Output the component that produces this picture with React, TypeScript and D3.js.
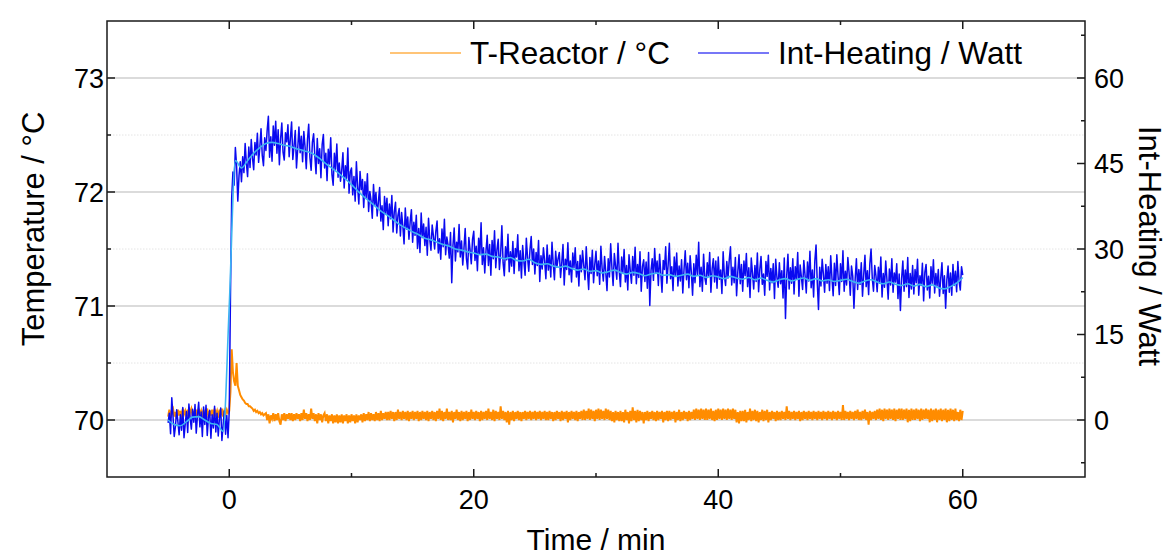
import React, { useEffect, useRef } from "react";
import * as d3 from "d3";

// sampling of the logged data (minutes)
const timeStart = -5;
const timeStep = 0.1;
const smoothStep = 0.5;

// T-Reactor / °C, one value every 0.1 min from -5 to 60 (one row = 1 min)
const reactorTemp = [
  70.03, 70.09, 70.02, 70.08, 70.1, 70.03, 70.07, 70.01, 70.09, 70.04,
  70.08, 70.02, 70.1, 70.05, 70.08, 70.03, 70.09, 70.02, 70.07, 70.1,
  70.04, 70.08, 70.02, 70.09, 70.03, 70.1, 70.05, 70.08, 70.02, 70.09,
  70.03, 70.07, 70.1, 70.02, 70.08, 70.04, 70.09, 70.03, 70.1, 70.05,
  70.08, 70.02, 70.09, 70.04, 70.1, 70.03, 70.08, 70.05, 70.09, 70.06,
  70.08, 70.25, 70.62, 70.42, 70.34, 70.3, 70.5, 70.3, 70.26, 70.22,
  70.2, 70.18, 70.17, 70.15, 70.14, 70.14, 70.12, 70.12, 70.11, 70.1,
  70.08, 70.09, 70.07, 70.08, 70.06, 70.07, 70.05, 70.06, 70.04, 70.05,
  70.06, 70.0, 70.05, 69.97, 70.04, 70.01, 70.06, 69.99, 70.05, 70.0,
  70.06, 69.99, 69.96, 70.05, 70.0, 70.06, 69.99, 70.05, 70.01, 70.06,
  70.0, 70.06, 69.99, 70.05, 70.0, 70.06, 70.01, 70.05, 69.99, 70.06,
  70.0, 70.09, 70.01, 70.06, 69.99, 70.05, 70.0, 70.1, 70.01, 70.06,
  69.99, 70.05, 69.97, 70.06, 70.0, 70.05, 69.98, 70.04, 70.06, 69.99,
  70.05, 69.97, 70.04, 69.99, 70.05, 69.97, 70.04, 69.98, 70.05, 69.97,
  70.04, 69.98, 70.05, 69.97, 70.04, 69.99, 70.05, 69.97, 70.04, 69.98,
  70.05, 69.99, 70.04, 69.97, 70.05, 69.98, 70.04, 70.0, 70.05, 69.98,
  70.06, 69.99, 70.05, 70.0, 70.07, 69.99, 70.06, 70.0, 70.05, 69.99,
  70.07, 70.0, 70.06, 69.99, 70.08, 70.0, 70.06, 70.01, 70.07, 70.0,
  70.07, 70.0, 70.08, 70.01, 70.07, 69.99, 70.07, 70.0, 70.09, 70.01,
  70.07, 70.0, 70.08, 70.01, 70.07, 70.0, 70.08, 69.99, 70.07, 70.01,
  70.08, 70.0, 70.07, 70.01, 70.08, 69.99, 70.07, 70.0, 70.08, 70.01,
  70.07, 70.0, 70.08, 69.99, 70.07, 70.01, 70.08, 70.0, 70.07, 69.99,
  70.08, 70.01, 70.1, 70.0, 70.08, 69.99, 70.07, 70.01, 70.1, 70.0,
  70.07, 70.0, 70.08, 69.98, 70.07, 70.01, 70.09, 70.0, 70.07, 69.99,
  70.08, 70.0, 70.07, 70.01, 70.08, 69.99, 70.07, 70.0, 70.09, 70.01,
  70.07, 70.0, 70.08, 70.01, 70.07, 69.99, 70.08, 70.0, 70.07, 70.01,
  70.08, 70.0, 70.1, 70.01, 70.07, 70.0, 70.09, 69.99, 70.08, 70.01,
  70.07, 70.0, 70.12, 70.01, 70.08, 70.0, 70.07, 69.98, 70.08, 69.96,
  70.07, 70.0, 70.08, 69.99, 70.07, 70.01, 70.08, 70.0, 70.07, 69.99,
  70.07, 70.01, 70.08, 70.0, 70.07, 70.01, 70.08, 70.0, 70.07, 70.01,
  70.08, 70.0, 70.07, 70.01, 70.08, 70.0, 70.07, 70.01, 70.08, 70.0,
  70.07, 70.0, 70.08, 70.01, 70.07, 69.99, 70.07, 70.0, 70.08, 70.01,
  70.07, 69.99, 70.08, 70.0, 70.07, 70.01, 70.08, 69.98, 70.07, 70.0,
  70.08, 70.01, 70.07, 70.0, 70.08, 69.99, 70.07, 70.01, 70.08, 70.0,
  70.09, 70.0, 70.08, 70.01, 70.1, 70.0, 70.09, 70.01, 70.08, 69.99,
  70.09, 70.01, 70.1, 70.0, 70.09, 70.01, 70.08, 70.0, 70.1, 70.01,
  70.09, 70.0, 70.08, 69.99, 70.07, 69.98, 70.08, 70.0, 70.07, 69.99,
  70.08, 69.99, 70.07, 69.98, 70.09, 70.0, 70.07, 69.97, 70.08, 69.99,
  70.11, 70.0, 70.08, 69.98, 70.09, 69.99, 70.08, 70.0, 70.07, 69.97,
  70.07, 70.0, 70.08, 69.99, 70.07, 70.01, 70.08, 70.0, 70.07, 69.99,
  70.08, 70.0, 70.07, 70.01, 70.08, 69.98, 70.07, 70.0, 70.08, 69.99,
  70.08, 70.0, 70.07, 70.01, 70.08, 69.98, 70.07, 70.0, 70.09, 69.99,
  70.07, 70.0, 70.08, 70.01, 70.07, 69.99, 70.08, 70.0, 70.07, 70.01,
  70.09, 70.0, 70.1, 70.01, 70.09, 70.0, 70.1, 70.01, 70.09, 70.0,
  70.1, 70.0, 70.09, 70.01, 70.1, 70.0, 70.08, 69.99, 70.09, 70.0,
  70.1, 70.01, 70.09, 70.0, 70.1, 70.01, 70.09, 70.0, 70.1, 70.01,
  70.09, 70.0, 70.1, 70.01, 70.09, 69.98, 70.07, 69.97, 70.08, 69.99,
  70.08, 69.99, 70.09, 69.98, 70.07, 70.0, 70.1, 69.99, 70.08, 70.0,
  70.09, 69.99, 70.08, 69.98, 70.07, 70.0, 70.09, 69.99, 70.08, 70.0,
  70.09, 69.98, 70.07, 70.0, 70.08, 70.01, 70.07, 69.99, 70.08, 70.0,
  70.07, 70.0, 70.08, 70.01, 70.07, 70.0, 70.12, 70.01, 70.08, 70.0,
  70.07, 70.01, 70.08, 70.0, 70.07, 70.01, 70.08, 69.99, 70.07, 70.0,
  70.08, 70.01, 70.07, 70.0, 70.08, 70.01, 70.07, 70.0, 70.08, 70.01,
  70.07, 70.0, 70.08, 70.01, 70.07, 70.0, 70.08, 70.01, 70.07, 70.0,
  70.08, 70.01, 70.07, 70.0, 70.08, 70.01, 70.07, 70.0, 70.08, 70.01,
  70.07, 70.0, 70.13, 70.0, 70.08, 70.01, 70.07, 70.0, 70.08, 70.01,
  70.07, 70.0, 70.08, 70.01, 70.09, 70.0, 70.07, 70.0, 70.08, 70.01,
  70.09, 70.0, 70.07, 69.96, 70.08, 70.0, 70.07, 70.01, 70.08, 70.0,
  70.09, 70.01, 70.1, 70.0, 70.09, 69.99, 70.1, 70.01, 70.09, 70.0,
  70.1, 70.01, 70.09, 70.0, 70.1, 69.99, 70.09, 70.01, 70.1, 70.0,
  70.1, 70.0, 70.09, 70.01, 70.1, 69.98, 70.09, 69.99, 70.1, 70.0,
  70.09, 70.0, 70.1, 70.01, 70.09, 69.99, 70.1, 70.0, 70.09, 70.01,
  70.1, 70.01, 70.09, 69.98, 70.1, 69.99, 70.09, 70.0, 70.1, 69.98,
  70.09, 70.0, 70.1, 69.99, 70.09, 70.0, 70.1, 69.98, 70.09, 69.99,
  70.1, 70.0, 70.09, 69.99, 70.1, 70.0, 70.07, 69.99, 70.09, 70.0,
  70.08,
];

// Int-Heating / Watt, same sampling
const heatingPower = [
  -0.5, 1.2, -2.4, 3.9, 0.6, -2.9, -1.1, 1.8, -0.3, -2.6,
  0.9, -1.8, 2.2, -3.1, -0.7, 1.5, -2.2, 2.8, 0.3, -1.6,
  1.9, -0.4, 2.7, -2.3, 0.8, 3.1, -1.2, 1.4, -2.9, 2.3,
  -0.8, 2.6, -2.7, 0.5, 1.7, -3.2, 0.9, -1.4, 2.4, -2.1,
  1.2, -2.8, 0.4, 2.1, -3.6, -0.9, 1.6, -2.5, 0.8, -3.1,
  1.5, 22.0, 39.0, 43.5, 41.2, 47.8, 44.6, 38.4, 42.9, 45.3,
  41.8, 46.2, 43.4, 48.5, 45.1, 42.7, 47.9, 44.3, 49.2, 46.0,
  43.9, 48.7, 46.5, 50.3, 45.2, 47.8, 51.1, 46.4, 44.6, 49.5,
  47.3, 50.8, 53.3, 46.1, 49.7, 45.4, 51.6, 48.2, 52.4, 46.8,
  50.9, 44.8, 49.3, 52.1, 47.0, 45.6, 50.4, 48.8, 51.8, 46.2,
  49.4, 52.3, 45.7, 48.1, 50.8, 44.2, 47.6, 51.4, 46.9, 49.8,
  45.3, 50.6, 47.9, 44.1, 49.2, 51.9, 46.0, 43.8, 48.7, 50.2,
  46.4, 43.2, 49.4, 45.0, 47.6, 42.5, 48.3, 50.1, 44.2, 46.8,
  42.0, 47.5, 44.9, 49.5, 43.1, 41.2, 46.8, 44.0, 48.4, 42.6,
  45.1, 41.9, 43.8, 46.9, 40.7, 44.6, 42.4, 47.7, 39.8, 43.5,
  44.2, 39.5, 42.7, 38.4, 45.3, 41.0, 37.9, 43.6, 40.4, 42.2,
  37.3, 41.8, 39.0, 43.2, 36.6, 40.1, 38.5, 35.4, 41.3, 37.7,
  39.9, 35.8, 38.3, 40.8, 34.9, 37.6, 33.4, 39.2, 36.2, 38.9,
  34.1, 37.9, 35.3, 39.4, 33.0, 36.5, 38.2, 32.8, 35.9, 37.1,
  32.3, 36.4, 34.0, 30.9, 37.2, 33.5, 35.6, 31.7, 34.8, 36.9,
  31.2, 34.7, 32.4, 35.9, 30.1, 33.6, 29.4, 36.3, 32.0, 34.4,
  30.6, 33.8, 28.9, 35.4, 31.7, 29.8, 34.2, 32.3, 30.0, 33.1,
  34.9, 29.3, 31.8, 28.2, 33.5, 30.4, 35.2, 29.0, 32.1, 30.7,
  28.4, 32.9, 24.1, 30.6, 33.7, 27.9, 31.2, 29.5, 34.3, 28.6,
  31.4, 27.2, 30.1, 33.6, 28.3, 26.5, 32.0, 29.8, 27.4, 31.7,
  33.1, 28.0, 30.5, 26.2, 31.9, 29.1, 34.6, 27.3, 30.2, 25.8,
  29.6, 32.4, 27.1, 30.8, 25.4, 31.5, 28.3, 33.2, 26.7, 29.9,
  31.7, 26.4, 29.2, 34.1, 27.6, 25.3, 30.4, 28.1, 32.6, 26.0,
  29.5, 27.0, 31.3, 25.7, 30.1, 28.6, 32.5, 26.2, 29.7, 24.9,
  30.6, 27.8, 25.4, 31.9, 28.5, 26.1, 29.9, 32.2, 27.3, 30.0,
  25.6, 29.4, 27.1, 31.5, 24.3, 28.8, 26.5, 30.2, 27.9, 24.8,
  30.7, 26.3, 28.9, 25.1, 31.2, 27.4, 24.6, 29.6, 26.8, 28.3,
  29.4, 25.0, 27.6, 30.8, 23.7, 28.2, 26.4, 31.1, 25.5, 27.9,
  24.2, 29.3, 26.7, 30.2, 25.1, 27.8, 23.5, 28.9, 26.0, 29.7,
  27.1, 24.6, 30.4, 26.2, 22.9, 28.5, 25.7, 29.8, 24.1, 27.3,
  29.6, 25.3, 27.9, 23.8, 30.5, 26.6, 24.4, 28.7, 25.9, 22.7,
  28.3, 25.1, 30.9, 26.8, 23.6, 29.2, 27.0, 24.7, 31.0, 26.1,
  23.4, 28.6, 25.9, 29.9, 24.2, 27.1, 22.8, 29.0, 26.3, 24.0,
  28.7, 25.4, 30.3, 23.9, 27.3, 25.0, 29.5, 22.6, 26.9, 28.1,
  24.3, 27.7, 23.1, 29.4, 20.1, 26.2, 28.3, 24.5, 30.1, 25.7,
  27.9, 23.6, 29.1, 25.8, 22.4, 28.0, 26.4, 30.4, 24.0, 27.2,
  31.0, 24.8, 26.9, 22.7, 28.6, 25.2, 29.3, 23.5, 27.0, 24.4,
  28.1, 22.3, 26.4, 29.7, 24.6, 27.5, 23.2, 28.8, 25.9, 21.9,
  27.4, 24.1, 28.9, 25.5, 31.2, 23.4, 26.8, 22.6, 29.1, 25.0,
  23.8, 27.6, 25.2, 29.4, 22.4, 26.5, 28.3, 24.2, 27.9, 23.1,
  28.6, 24.7, 26.3, 22.2, 29.5, 25.4, 23.6, 27.8, 24.9, 28.1,
  30.4, 23.7, 26.8, 24.1, 28.5, 21.8, 26.0, 29.0, 23.9, 27.3,
  22.6, 27.9, 25.3, 29.2, 23.4, 26.7, 21.5, 28.4, 25.8, 23.0,
  27.1, 24.3, 29.3, 22.5, 26.4, 28.7, 23.8, 25.6, 21.9, 27.8,
  25.2, 28.9, 22.8, 26.6, 24.1, 27.4, 21.3, 28.2, 25.0, 23.3,
  27.6, 23.9, 26.2, 21.4, 28.4, 17.8, 25.3, 29.1, 23.0, 26.7,
  24.0, 28.3, 22.1, 26.9, 24.8, 29.4, 21.7, 27.2, 25.1, 22.9,
  28.0, 25.4, 22.3, 27.7, 24.4, 29.6, 23.2, 26.3, 21.6, 27.9,
  30.7, 24.1, 19.4, 26.8, 23.5, 28.2, 25.6, 22.4, 27.3, 24.0,
  26.9, 22.7, 28.8, 24.9, 21.8, 27.5, 23.6, 29.0, 25.2, 22.0,
  27.4, 24.3, 29.7, 22.6, 26.1, 23.7, 28.5, 25.9, 21.9, 27.0,
  25.3, 19.6, 24.7, 28.3, 22.9, 26.4, 23.8, 27.6, 21.7, 25.5,
  28.9, 23.4, 26.2, 22.0, 27.4, 30.0, 24.8, 22.6, 27.1, 25.3,
  22.5, 26.8, 24.0, 28.6, 21.6, 25.7, 23.3, 27.9, 24.6, 21.2,
  26.5, 23.7, 28.3, 22.4, 25.8, 24.2, 27.4, 21.3, 25.6, 19.2,
  24.8, 27.9, 22.6, 26.3, 23.4, 28.5, 21.5, 25.7, 23.0, 27.1,
  22.1, 26.4, 24.1, 28.2, 21.9, 25.3, 23.6, 27.5, 20.9, 25.9,
  27.3, 22.8, 25.2, 21.4, 26.9, 24.0, 28.1, 22.3, 25.7, 23.5,
  26.4, 21.7, 24.9, 27.6, 22.2, 25.3, 19.6, 24.6, 27.0, 22.4,
  25.8, 21.9, 27.3, 23.6, 26.1, 22.5, 27.8, 24.3, 22.8, 26.9,
  25.4,
];

// smoothed Int-Heating (light blue), one value every 0.5 min from -5 to 60
const heatingSmooth = [
  0.0, -0.8, -1.0, -0.3, 0.5, 0.6, 0.0, -0.6, -0.8, -2.0,
  20.0, 45.5, 44.2, 45.5, 46.8, 47.8, 48.5, 48.7, 48.5, 48.2,
  48.0, 47.6, 47.3, 47.0, 46.5, 45.7, 44.8, 44.0, 43.2, 42.3,
  41.3, 40.2, 39.2, 38.3, 37.4, 36.5, 35.8, 35.0, 34.2, 33.6,
  33.0, 32.5, 31.9, 31.6, 31.2, 30.8, 30.5, 30.0, 29.8, 29.5,
  29.3, 29.0, 29.1, 28.7, 28.6, 28.3, 28.5, 28.0, 27.9, 28.2,
  27.6, 27.3, 27.4, 27.0, 26.8, 27.0, 26.6, 26.3, 26.5, 26.1,
  26.2, 25.8, 26.0, 26.3, 25.9, 25.6, 25.9, 25.7, 25.3, 25.6,
  25.8, 25.4, 25.5, 25.2, 25.4, 25.6, 25.2, 25.4, 25.0, 25.3,
  25.1, 24.8, 25.2, 24.9, 24.7, 25.0, 24.6, 24.9, 24.5, 24.2,
  24.6, 24.8, 24.4, 24.7, 24.9, 24.5, 24.8, 24.4, 24.6, 24.3,
  24.5, 24.7, 24.3, 24.0, 24.4, 24.6, 24.2, 23.9, 24.2, 23.8,
  23.6, 23.9, 23.5, 23.8, 23.4, 23.7, 23.2, 23.0, 23.4, 24.0,
  25.0,
];

const xTicks = [0, 20, 40, 60];
const xMinorTicks = [10, 30, 50];
const tempTicks = [70, 71, 72, 73];
const tempMinorTicks = [70.5, 71.5, 72.5];
const wattTicks = [0, 15, 30, 45, 60];
const wattMinorTicks = [-7.5, 7.5, 22.5, 37.5, 52.5, 67.5];
const legendItems = [
  { label: "T-Reactor / °C", color: "#ff8c00", legendColor: "#ffb04a" },
  { label: "Int-Heating / Watt", color: "#0a0af0", legendColor: "#4a4af5" },
];

const FONT = "'Liberation Sans', Arial, sans-serif";

export default function App() {
  const svgRef = useRef<SVGSVGElement>(null);

  useEffect(() => {
    const width = 1169;
    const height = 558;
    const left = 107;
    const right = 1085;
    const top = 21;
    const bottom = 477;

    const svg = d3
      .select(svgRef.current)
      .attr("width", width)
      .attr("height", height)
      .style("background-color", "white");
    svg.selectAll("*").remove();

    const x = d3.scaleLinear().domain([-10, 70]).range([left, right]);
    const yT = d3.scaleLinear().domain([69.5, 73.5]).range([bottom, top]);
    const yW = d3.scaleLinear().domain([-10, 70]).range([bottom, top]);

    // grid
    svg
      .append("g")
      .selectAll("line")
      .data(tempMinorTicks)
      .join("line")
      .attr("x1", left)
      .attr("x2", right)
      .attr("y1", (d) => yT(d))
      .attr("y2", (d) => yT(d))
      .attr("stroke", "#e4e4e4")
      .attr("stroke-dasharray", "1.5,1.5");
    svg
      .append("g")
      .selectAll("line")
      .data(tempTicks)
      .join("line")
      .attr("x1", left)
      .attr("x2", right)
      .attr("y1", (d) => yT(d))
      .attr("y2", (d) => yT(d))
      .attr("stroke", "#cfcfcf")
      .attr("stroke-width", 1.5);

    // data
    const tempLine = d3
      .line<number>()
      .x((d, i) => x(timeStart + i * timeStep))
      .y((d) => yT(d));
    const wattLine = d3
      .line<number>()
      .x((d, i) => x(timeStart + i * timeStep))
      .y((d) => yW(d));
    const smoothLine = d3
      .line<number>()
      .x((d, i) => x(timeStart + i * smoothStep))
      .y((d) => yW(d))
      .curve(d3.curveMonotoneX);

    svg
      .append("path")
      .attr("d", tempLine(reactorTemp))
      .attr("fill", "none")
      .attr("stroke", legendItems[0].color)
      .attr("stroke-width", 2);
    svg
      .append("path")
      .attr("d", wattLine(heatingPower))
      .attr("fill", "none")
      .attr("stroke", legendItems[1].color)
      .attr("stroke-width", 1.5)
      .attr("stroke-linejoin", "round");
    svg
      .append("path")
      .attr("d", smoothLine(heatingSmooth))
      .attr("fill", "none")
      .attr("stroke", "#3cb4f2")
      .attr("stroke-width", 1.6);

    // frame
    svg
      .append("rect")
      .attr("x", left)
      .attr("y", top)
      .attr("width", right - left)
      .attr("height", bottom - top)
      .attr("fill", "none")
      .attr("stroke", "#1a1a1a")
      .attr("stroke-width", 1.5);

    const ticks = svg.append("g").attr("stroke", "#1a1a1a").attr("stroke-width", 1.5);
    const xAll = [...xTicks.map((d) => [d, 8]), ...xMinorTicks.map((d) => [d, 4])];
    xAll.forEach(([d, len]) => {
      ticks.append("line").attr("x1", x(d)).attr("x2", x(d)).attr("y1", bottom).attr("y2", bottom - len);
      ticks.append("line").attr("x1", x(d)).attr("x2", x(d)).attr("y1", top).attr("y2", top + len);
    });
    const tAll = [...tempTicks.map((d) => [d, 8]), ...tempMinorTicks.map((d) => [d, 4])];
    tAll.forEach(([d, len]) => {
      ticks.append("line").attr("x1", left).attr("x2", left + len).attr("y1", yT(d)).attr("y2", yT(d));
    });
    const wAll = [...wattTicks.map((d) => [d, 8]), ...wattMinorTicks.map((d) => [d, 4])];
    wAll.forEach(([d, len]) => {
      ticks.append("line").attr("x1", right).attr("x2", right - len).attr("y1", yW(d)).attr("y2", yW(d));
    });

    // tick labels
    const tickFont = 27;
    svg
      .append("g")
      .selectAll("text")
      .data(xTicks)
      .join("text")
      .text((d) => `${d}`)
      .attr("x", (d) => x(d))
      .attr("y", bottom + 32)
      .attr("text-anchor", "middle")
      .style("font-family", FONT)
      .style("font-size", `${tickFont}px`);
    svg
      .append("g")
      .selectAll("text")
      .data(tempTicks)
      .join("text")
      .text((d) => `${d}`)
      .attr("x", left - 3)
      .attr("y", (d) => yT(d))
      .attr("dy", "0.36em")
      .attr("text-anchor", "end")
      .style("font-family", FONT)
      .style("font-size", `${tickFont}px`);
    svg
      .append("g")
      .selectAll("text")
      .data(wattTicks)
      .join("text")
      .text((d) => `${d}`)
      .attr("x", right + 9)
      .attr("y", (d) => yW(d))
      .attr("dy", "0.36em")
      .attr("text-anchor", "start")
      .style("font-family", FONT)
      .style("font-size", `${tickFont}px`);

    // axis titles
    const titleFont = 31;
    svg
      .append("text")
      .text("Time / min")
      .attr("x", (left + right) / 2)
      .attr("y", 550)
      .attr("text-anchor", "middle")
      .style("font-family", FONT)
      .style("font-size", "30px");
    svg
      .append("text")
      .text("Temperature / °C")
      .attr("transform", `translate(44,229) rotate(-90)`)
      .attr("text-anchor", "middle")
      .style("font-family", FONT)
      .style("font-size", `${titleFont}px`);
    svg
      .append("text")
      .text("Int-Heating / Watt")
      .attr("transform", `translate(1139,246) rotate(90)`)
      .attr("text-anchor", "middle")
      .style("font-family", FONT)
      .style("font-size", `${titleFont}px`);

    // legend
    const legendX = [390, 698];
    const legend = svg.append("g");
    legendItems.forEach((item, i) => {
      legend
        .append("line")
        .attr("x1", legendX[i])
        .attr("x2", legendX[i] + 71)
        .attr("y1", 53)
        .attr("y2", 53)
        .attr("stroke", item.legendColor)
        .attr("stroke-width", 1.5);
      legend
        .append("text")
        .text(item.label)
        .attr("x", legendX[i] + 80)
        .attr("y", 64)
        .style("font-family", FONT)
        .style("font-size", "31.5px");
    });
  }, []);

  return <svg ref={svgRef} style={{ position: "absolute", left: 0, top: 0 }}></svg>;
}
